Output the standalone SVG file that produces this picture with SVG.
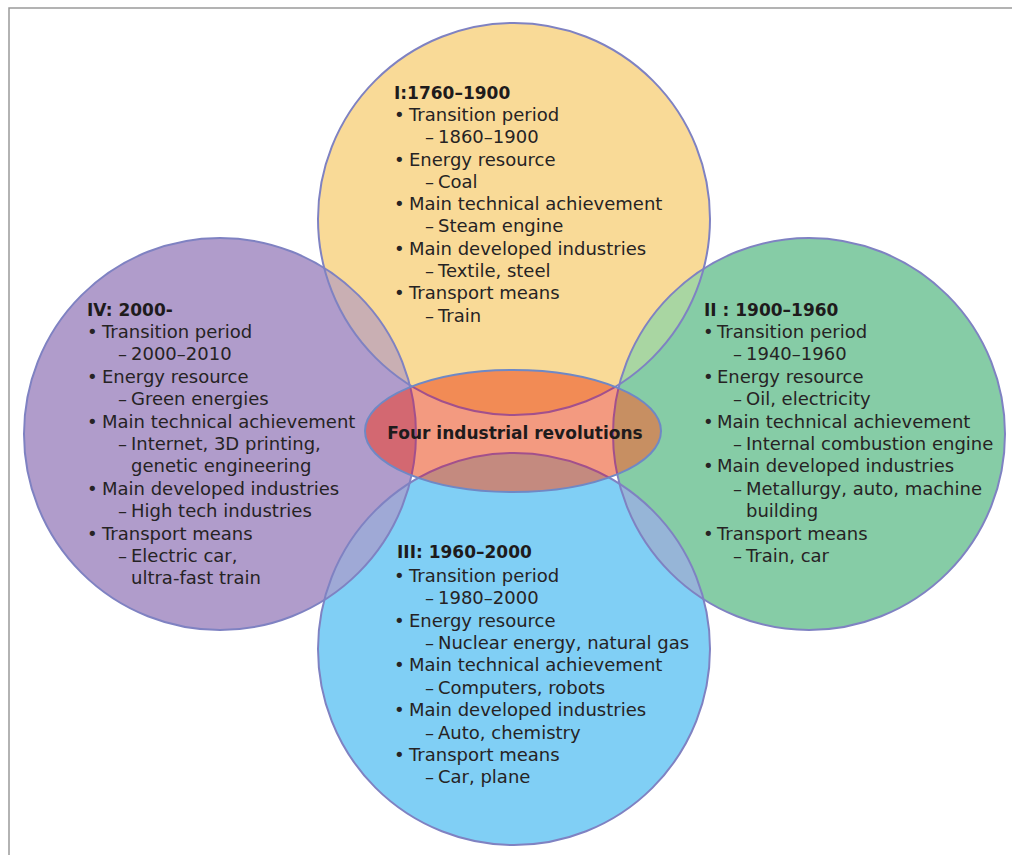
<svg xmlns="http://www.w3.org/2000/svg" width="1012" height="855" viewBox="0 0 1012 855">
  <style>
    .ring { stroke: #7F82C2; stroke-width: 2; }
    .inner { fill: none; stroke: #A2508C; stroke-width: 2; }
    .t { font-family: "DejaVu Sans", "Noto Sans", sans-serif; font-size: 18px; fill: #262324; }
    .h { font-family: "DejaVu Sans", "Noto Sans", sans-serif; font-size: 17px; font-weight: bold; fill: #1E1B1C; }
  </style>
  <defs>
    <clipPath id="cY"><circle cx="514" cy="219" r="196"/></clipPath>
    <clipPath id="cB"><circle cx="514" cy="649" r="196"/></clipPath>
    <clipPath id="cP"><circle cx="220" cy="434" r="196"/></clipPath>
    <clipPath id="cG"><circle cx="809" cy="434" r="196"/></clipPath>
    <clipPath id="cE"><ellipse cx="513" cy="431" rx="148" ry="61"/></clipPath>
  </defs>

  <rect width="1012" height="855" fill="#FFFFFF"/>
  <!-- page frame -->
  <path d="M9,855 V8 H1012" fill="none" stroke="#9A9A9A" stroke-width="1.5"/>

  <!-- circle fills -->
  <g id="fills">
    <circle cx="514" cy="219" r="196" fill="#F9DA97"/>
    <circle cx="514" cy="649" r="196" fill="#80CFF5"/>
    <circle cx="220" cy="434" r="196" fill="#B09CCB"/>
    <circle cx="809" cy="434" r="196" fill="#86CCA6"/>
  </g>

  <!-- overlaps between neighbouring circles -->
  <g id="overlaps">
    <g clip-path="url(#cY)"><circle cx="220" cy="434" r="196" fill="#C9AFB3"/></g>
    <g clip-path="url(#cY)"><circle cx="809" cy="434" r="196" fill="#A9D6A2"/></g>
    <g clip-path="url(#cB)"><circle cx="220" cy="434" r="196" fill="#9FA9D6"/></g>
    <g clip-path="url(#cB)"><circle cx="809" cy="434" r="196" fill="#96B5D7"/></g>
  </g>

  <!-- circle outlines -->
  <g id="outlines" fill="none">
    <circle class="ring" cx="514" cy="219" r="196"/>
    <circle class="ring" cx="514" cy="649" r="196"/>
    <circle class="ring" cx="220" cy="434" r="196"/>
    <circle class="ring" cx="809" cy="434" r="196"/>
  </g>

  <!-- central ellipse -->
  <g id="node-center">
    <ellipse cx="513" cy="431" rx="148" ry="61" fill="#F39A80"/>
    <g clip-path="url(#cE)">
      <circle cx="514" cy="219" r="196" fill="#F28B55"/>
      <circle cx="514" cy="649" r="196" fill="#C48A7F"/>
      <circle cx="220" cy="434" r="196" fill="#D36871"/>
      <circle cx="809" cy="434" r="196" fill="#C78F62"/>
      <circle class="inner" cx="514" cy="219" r="196"/>
      <circle class="inner" cx="514" cy="649" r="196"/>
      <circle class="inner" cx="220" cy="434" r="196"/>
      <circle class="inner" cx="809" cy="434" r="196"/>
    </g>
    <ellipse cx="513" cy="431" rx="148" ry="61" fill="none" stroke="#6F88C5" stroke-width="2"/>
    <text class="h" x="515" y="439" text-anchor="middle">Four industrial revolutions</text>
  </g>

  <!-- I -->
  <g id="node-I">
    <text class="h" x="394" y="98.5">I:1760–1900</text>
    <text class="t" y="121"><tspan x="394">•</tspan><tspan x="409">Transition period</tspan></text>
    <text class="t" y="143"><tspan x="425">–</tspan><tspan x="438">1860–1900</tspan></text>
    <text class="t" y="166"><tspan x="394">•</tspan><tspan x="409">Energy resource</tspan></text>
    <text class="t" y="188"><tspan x="425">–</tspan><tspan x="438">Coal</tspan></text>
    <text class="t" y="210"><tspan x="394">•</tspan><tspan x="409">Main technical achievement</tspan></text>
    <text class="t" y="232"><tspan x="425">–</tspan><tspan x="438">Steam engine</tspan></text>
    <text class="t" y="255"><tspan x="394">•</tspan><tspan x="409">Main developed industries</tspan></text>
    <text class="t" y="277"><tspan x="425">–</tspan><tspan x="438">Textile, steel</tspan></text>
    <text class="t" y="299"><tspan x="394">•</tspan><tspan x="409">Transport means</tspan></text>
    <text class="t" y="322"><tspan x="425">–</tspan><tspan x="438">Train</tspan></text>
  </g>

  <!-- IV -->
  <g id="node-IV">
    <text class="h" x="87" y="316">IV: 2000-</text>
    <text class="t" y="338"><tspan x="87">•</tspan><tspan x="102">Transition period</tspan></text>
    <text class="t" y="360"><tspan x="118">–</tspan><tspan x="131">2000–2010</tspan></text>
    <text class="t" y="383"><tspan x="87">•</tspan><tspan x="102">Energy resource</tspan></text>
    <text class="t" y="405"><tspan x="118">–</tspan><tspan x="131">Green energies</tspan></text>
    <text class="t" y="428"><tspan x="87">•</tspan><tspan x="102">Main technical achievement</tspan></text>
    <text class="t" y="450"><tspan x="118">–</tspan><tspan x="131">Internet, 3D printing,</tspan></text>
    <text class="t" y="472"><tspan x="131">genetic engineering</tspan></text>
    <text class="t" y="495"><tspan x="87">•</tspan><tspan x="102">Main developed industries</tspan></text>
    <text class="t" y="517"><tspan x="118">–</tspan><tspan x="131">High tech industries</tspan></text>
    <text class="t" y="540"><tspan x="87">•</tspan><tspan x="102">Transport means</tspan></text>
    <text class="t" y="562"><tspan x="118">–</tspan><tspan x="131">Electric car,</tspan></text>
    <text class="t" y="584"><tspan x="131">ultra-fast train</tspan></text>
  </g>

  <!-- II -->
  <g id="node-II">
    <text class="h" x="704" y="316">II : 1900–1960</text>
    <text class="t" y="338"><tspan x="703">•</tspan><tspan x="717">Transition period</tspan></text>
    <text class="t" y="360"><tspan x="733">–</tspan><tspan x="746">1940–1960</tspan></text>
    <text class="t" y="383"><tspan x="703">•</tspan><tspan x="717">Energy resource</tspan></text>
    <text class="t" y="405"><tspan x="733">–</tspan><tspan x="746">Oil, electricity</tspan></text>
    <text class="t" y="428"><tspan x="703">•</tspan><tspan x="717">Main technical achievement</tspan></text>
    <text class="t" y="450"><tspan x="733">–</tspan><tspan x="746">Internal combustion engine</tspan></text>
    <text class="t" y="472"><tspan x="703">•</tspan><tspan x="717">Main developed industries</tspan></text>
    <text class="t" y="495"><tspan x="733">–</tspan><tspan x="746">Metallurgy, auto, machine</tspan></text>
    <text class="t" y="517"><tspan x="746">building</tspan></text>
    <text class="t" y="540"><tspan x="703">•</tspan><tspan x="717">Transport means</tspan></text>
    <text class="t" y="562"><tspan x="733">–</tspan><tspan x="746">Train, car</tspan></text>
  </g>

  <!-- III -->
  <g id="node-III">
    <text class="h" x="397" y="558">III: 1960–2000</text>
    <text class="t" y="582"><tspan x="394">•</tspan><tspan x="409">Transition period</tspan></text>
    <text class="t" y="604"><tspan x="425">–</tspan><tspan x="438">1980–2000</tspan></text>
    <text class="t" y="627"><tspan x="394">•</tspan><tspan x="409">Energy resource</tspan></text>
    <text class="t" y="649"><tspan x="425">–</tspan><tspan x="438">Nuclear energy, natural gas</tspan></text>
    <text class="t" y="671"><tspan x="394">•</tspan><tspan x="409">Main technical achievement</tspan></text>
    <text class="t" y="694"><tspan x="425">–</tspan><tspan x="438">Computers, robots</tspan></text>
    <text class="t" y="716"><tspan x="394">•</tspan><tspan x="409">Main developed industries</tspan></text>
    <text class="t" y="739"><tspan x="425">–</tspan><tspan x="438">Auto, chemistry</tspan></text>
    <text class="t" y="761"><tspan x="394">•</tspan><tspan x="409">Transport means</tspan></text>
    <text class="t" y="783"><tspan x="425">–</tspan><tspan x="438">Car, plane</tspan></text>
  </g>

  <g id="connectors"/>
</svg>
